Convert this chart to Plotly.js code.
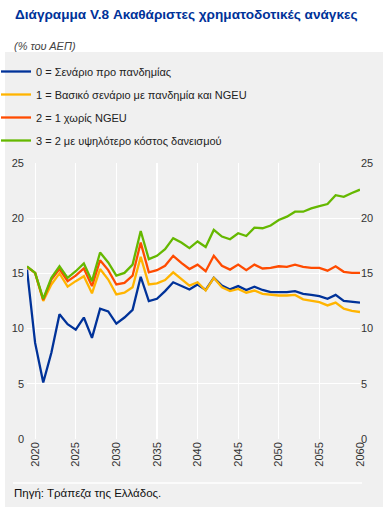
<!DOCTYPE html>
<html>
<head>
<meta charset="utf-8">
<script src="https://cdn.plot.ly/plotly-3.0.1.min.js"></script>
<style>
html,body{margin:0;padding:0;background:#ffffff;}
#chart{width:385px;height:509px;}
</style>
</head>
<body>
<div id="chart"></div>
<script>
const years = [2019,2020,2021,2022,2023,2024,2025,2026,2027,2028,2029,2030,2031,2032,2033,2034,2035,2036,2037,2038,2039,2040,2041,2042,2043,2044,2045,2046,2047,2048,2049,2050,2051,2052,2053,2054,2055,2056,2057,2058,2059,2060];

const seriesNames = [
  "0 = Σενάριο προ πανδημίας",
  "1 = Βασικό σενάριο με πανδημία και NGEU",
  "2 = 1 χωρίς NGEU",
  "3 = 2 με υψηλότερο κόστος δανεισμού"
];

const scenario0 = [15.35,8.7,5.1,7.8,11.3,10.4,9.9,11.0,9.15,11.8,11.55,10.45,11.0,11.7,14.7,12.5,12.7,13.4,14.2,13.9,13.55,14.0,13.5,14.6,13.9,13.55,13.85,13.5,13.8,13.5,13.3,13.3,13.3,13.4,13.15,13.05,12.95,12.7,13.05,12.5,12.45,12.35];
const scenario1 = [15.6,15.05,12.5,14.0,15.0,13.8,14.3,14.75,13.2,15.4,14.45,13.1,13.25,13.75,16.5,14.0,14.1,14.4,15.1,14.5,13.9,14.2,13.45,14.6,13.75,13.4,13.6,13.25,13.45,13.15,13.05,13.0,13.0,13.05,12.65,12.55,12.4,12.1,12.35,11.8,11.6,11.5];
const scenario2 = [15.6,15.05,12.6,14.45,15.4,14.3,14.8,15.45,13.85,16.2,15.3,14.0,14.15,14.8,17.8,15.1,15.3,15.7,16.6,15.95,15.4,15.8,15.2,16.6,15.7,15.35,15.8,15.3,15.8,15.45,15.5,15.65,15.6,15.8,15.6,15.5,15.5,15.25,15.65,15.15,15.05,15.05];
const scenario3 = [15.65,15.05,12.7,14.6,15.65,14.6,15.2,15.9,14.3,16.9,16.0,14.8,15.05,15.8,18.85,16.3,16.6,17.2,18.2,17.8,17.3,17.9,17.4,18.95,18.35,18.1,18.65,18.4,19.15,19.1,19.35,19.85,20.15,20.6,20.6,20.9,21.1,21.3,22.1,21.95,22.3,22.6];

const yTicks = [0,5,10,15,20,25];
const xTicks = [2020,2025,2030,2035,2040,2045,2050,2055,2060];

const colors = ["#003299","#FFB400","#FF4B00","#65B800"];
const allSeries = [scenario0, scenario1, scenario2, scenario3];

// layout geometry (pixels)
const W = 385, H = 509;
const mL = 27, mR = 25, mT = 163, mB = 70;
const pw = W - mL - mR, ph = H - mT - mB;
const px = v => (v - mL) / pw;          // pixel x -> paper x
const py = v => (H - mB - v) / ph;      // pixel y -> paper y

const traces = allSeries.map((s, i) => ({
  x: years, y: s, type: "scatter", mode: "lines",
  name: seriesNames[i],
  legendgroup: "g" + i,
  line: {color: colors[i], width: 2.3},
  hoverinfo: "skip"
}));
// twin trace for the right-hand axis
traces.push({
  x: years, y: scenario3, type: "scatter", mode: "lines", yaxis: "y2",
  line: {color: "rgba(0,0,0,0)", width: 0}, showlegend: false, hoverinfo: "skip"
});

const tickFont = {family: "Liberation Sans, Arial, sans-serif", size: 11, color: "#333333"};

const layout = {
  width: W, height: H,
  margin: {l: mL, r: mR, t: mT, b: mB, pad: 0, autoexpand: false},
  paper_bgcolor: "#ffffff",
  plot_bgcolor: "rgba(0,0,0,0)",
  showlegend: true,
  title: {
    text: "Διάγραμμα V.8 Ακαθάριστες χρηματοδοτικές ανάγκες",
    font: {family: "Liberation Sans, Arial, sans-serif", size: 13.6, color: "#003299", weight: "bold"},
    x: 15 / W, xanchor: "left", xref: "container",
    y: 1 - 14 / H, yanchor: "middle", yref: "container"
  },
  legend: {
    x: px(-4), xanchor: "left",
    y: py(57), yanchor: "top",
    bgcolor: "rgba(0,0,0,0)",
    font: {family: "Liberation Sans, Arial, sans-serif", size: 11, color: "#222222"},
    tracegroupgap: 4,
    itemwidth: 30
  },
  xaxis: {
    range: [2019, 2060],
    tickvals: xTicks,
    ticktext: xTicks.map(String),
    tickangle: -90,
    showgrid: true, gridcolor: "#ffffff", gridwidth: 1.2,
    zeroline: false, showline: false, ticks: "",
    tickfont: tickFont
  },
  yaxis: {
    range: [-0.02, 25.02],
    tickvals: yTicks,
    showgrid: true, gridcolor: "#ffffff", gridwidth: 1.2,
    zeroline: false, showline: false, ticks: "",
    ticklabelstandoff: 2,
    tickfont: tickFont
  },
  yaxis2: {
    range: [-0.02, 25.02],
    tickvals: yTicks,
    overlaying: "y", side: "right",
    showgrid: false, zeroline: false, showline: false, ticks: "",
    tickfont: tickFont
  },
  shapes: [
    {type: "rect", xref: "paper", yref: "paper", layer: "below",
     x0: px(5), x1: px(383), y0: py(507), y1: py(52),
     fillcolor: "#f0f0f0", line: {width: 0}},
    {type: "line", xref: "paper", yref: "paper", layer: "below",
     x0: px(13), x1: px(362), y0: py(483), y1: py(483),
     line: {color: "#ffffff", width: 1.5}}
  ],
  annotations: [
    {text: "(% του ΑΕΠ)", xref: "paper", yref: "paper",
     x: px(12), xanchor: "left", y: py(46), yanchor: "middle", showarrow: false,
     font: {family: "Liberation Sans, Arial, sans-serif", size: 11, color: "#444444", style: "italic"}},
    {text: "Πηγή: Τράπεζα της Ελλάδος.", xref: "paper", yref: "paper",
     x: px(12), xanchor: "left", y: py(493), yanchor: "middle", showarrow: false,
     font: {family: "Liberation Sans, Arial, sans-serif", size: 11.5, color: "#111111"}}
  ]
};

Plotly.newPlot("chart", traces, layout, {displayModeBar: false, staticPlot: true});
</script>
</body>
</html>
